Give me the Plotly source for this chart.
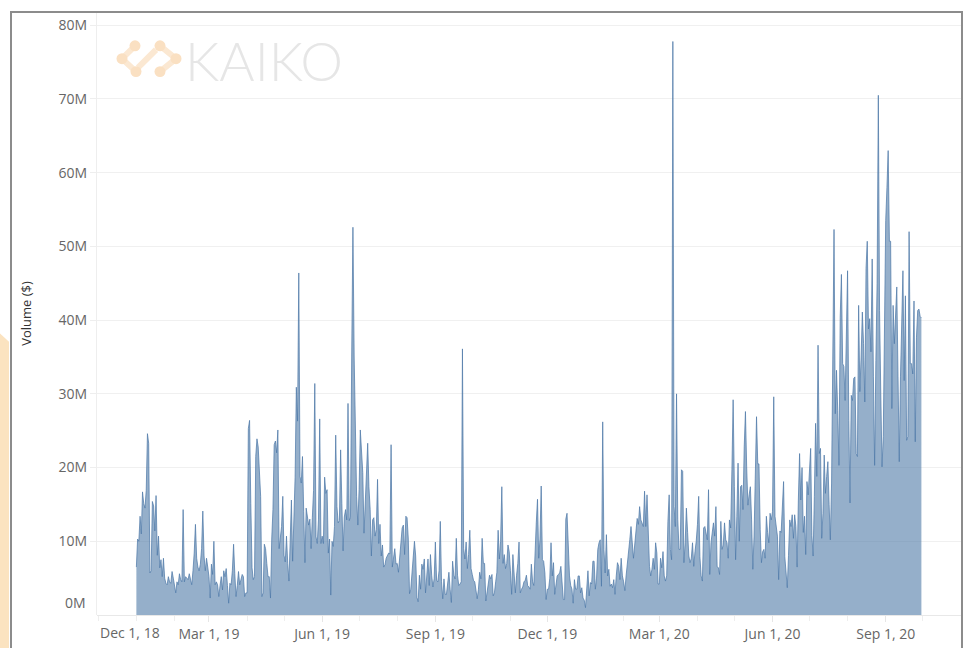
"""
Daily traded volume chart (Kaiko style), rebuilt with Plotly
"""

import plotly.graph_objects as go
import pandas as pd

# Daily volume in millions of USD, one list per month
jan_2019 = [6.5, 10.3, 10.0, 13.4, 11.0, 16.7, 15.1, 14.5, 16.9, 24.6, 23.3, 5.7, 6.0, 15.4, 14.8, 11.4,
            16.2, 8.1, 10.7, 6.4, 7.5, 5.2, 7.7, 5.0, 4.3, 4.1, 5.2, 4.5, 4.3, 5.9, 5.0]
feb_2019 = [4.2, 3.0, 4.5, 4.1, 5.6, 4.8, 4.5, 14.3, 4.5, 5.2, 5.0, 4.8, 5.6, 5.0, 4.1, 6.0, 8.4, 12.3,
            7.7, 6.5, 6.0, 6.9, 9.0, 14.1, 8.0, 6.0, 7.7, 6.5]
mar_2019 = [5.2, 2.3, 6.9, 5.5, 10.0, 4.1, 4.5, 4.1, 2.5, 4.0, 5.2, 3.4, 6.0, 5.2, 6.3, 4.0, 1.6, 4.3,
            4.1, 6.0, 9.6, 5.6, 2.5, 4.0, 5.9, 4.1, 4.8, 5.5, 5.2, 2.5, 3.0]
apr_2019 = [3.0, 25.3, 26.4, 15.1, 6.4, 4.8, 5.2, 21.5, 23.9, 22.8, 19.0, 16.1, 2.5, 3.0, 9.6, 9.0, 7.0,
            5.2, 5.2, 2.3, 10.3, 14.3, 23.1, 23.6, 22.0, 25.1, 9.0, 10.7, 12.0, 16.1]
may_2019 = [8.1, 7.2, 10.7, 7.0, 4.6, 10.0, 15.6, 7.3, 14.0, 18.7, 30.9, 26.3, 46.4, 18.8, 17.9, 21.5,
            14.0, 7.1, 14.5, 13.3, 12.2, 13.0, 9.0, 13.2, 16.9, 31.4, 10.6, 9.7, 12.9, 26.6, 9.7]
jun_2019 = [10.7, 9.7, 18.7, 16.5, 17.0, 8.4, 10.3, 2.7, 10.0, 9.3, 12.0, 24.4, 14.7, 12.5, 12.8, 22.4,
            15.1, 8.7, 13.3, 14.3, 12.9, 28.7, 12.8, 13.3, 35.0, 52.6, 35.0, 22.4, 16.1, 12.2]
jul_2019 = [17.0, 25.1, 22.4, 19.3, 11.1, 16.1, 19.2, 23.3, 17.4, 14.3, 8.0, 12.9, 13.2, 10.7, 11.6, 18.4,
            9.7, 12.3, 8.0, 9.5, 6.5, 6.8, 7.7, 8.1, 8.4, 8.3, 23.1, 6.5, 7.7, 9.0, 6.9]
aug_2019 = [7.0, 5.8, 8.2, 10.0, 11.8, 12.2, 8.2, 13.4, 13.2, 10.3, 2.9, 3.5, 5.5, 7.0, 10.0, 8.0, 2.4,
            1.8, 5.4, 3.5, 6.9, 6.2, 7.6, 3.0, 5.4, 7.6, 4.0, 8.2, 5.4, 3.8, 4.9]
sep_2019 = [9.9, 4.7, 4.5, 6.0, 12.7, 4.5, 2.2, 4.9, 2.8, 2.8, 4.5, 5.8, 3.5, 1.7, 7.3, 5.4, 4.9, 10.4,
            5.4, 4.0, 4.2, 4.5, 36.1, 9.0, 7.6, 9.9, 6.3, 8.2, 11.5, 6.3]
oct_2019 = [5.5, 4.7, 4.5, 3.5, 2.2, 3.5, 5.8, 4.9, 10.4, 7.0, 7.0, 1.9, 2.9, 3.8, 5.4, 4.9, 5.5, 2.6,
            3.0, 4.5, 5.8, 11.5, 7.6, 10.0, 17.4, 7.0, 8.2, 6.3, 7.0, 9.5, 8.6]
nov_2019 = [6.0, 2.8, 8.2, 5.4, 3.0, 5.4, 7.0, 9.9, 3.0, 3.5, 3.8, 4.5, 4.7, 5.4, 4.0, 3.8, 3.5, 6.9,
            4.5, 4.0, 9.0, 12.5, 15.7, 7.7, 10.3, 17.5, 7.5, 7.3, 5.7, 2.1]
dec_2019 = [3.5, 3.5, 5.0, 9.8, 5.3, 7.1, 2.8, 4.4, 5.3, 5.5, 5.7, 6.6, 4.4, 2.1, 2.1, 13.0, 13.8, 8.4,
            5.3, 4.0, 3.5, 1.6, 4.8, 3.5, 3.5, 5.3, 5.3, 3.0, 3.7, 2.3, 2.0]
jan_2020 = [1.0, 3.5, 6.0, 2.6, 4.4, 4.2, 7.3, 7.3, 3.5, 5.0, 8.9, 9.8, 10.2, 3.9, 26.2, 8.9, 5.7, 10.9,
            5.3, 6.2, 3.9, 4.2, 3.7, 4.8, 2.8, 5.3, 7.1, 6.6, 4.8, 7.7, 5.3]
feb_2020 = [4.5, 3.3, 5.3, 7.3, 8.9, 10.2, 12.0, 10.2, 7.7, 9.5, 11.2, 13.1, 12.3, 14.7, 12.9, 12.3, 12.0,
            16.8, 12.0, 16.3, 12.3, 6.6, 5.3, 6.2, 7.7, 6.2, 9.8, 8.4, 4.2]
mar_2020 = [4.2, 7.7, 6.4, 8.6, 5.3, 4.6, 5.3, 12.7, 16.3, 8.9, 7.5, 77.8, 14.7, 12.0, 30.0, 13.0, 8.9,
            8.9, 19.7, 19.5, 7.1, 9.8, 14.5, 11.2, 8.0, 7.1, 7.7, 9.8, 6.6, 8.6, 10.0]
apr_2020 = [12.3, 16.1, 7.9, 5.3, 4.6, 11.8, 12.0, 11.0, 10.2, 17.0, 5.5, 9.8, 11.6, 12.5, 10.7, 14.7,
            6.6, 6.4, 5.5, 12.7, 8.9, 9.5, 12.5, 10.2, 9.8, 7.7, 12.9, 11.8, 19.7, 29.2]
may_2020 = [17.4, 7.5, 13.4, 20.6, 10.0, 17.4, 17.6, 14.3, 22.8, 27.6, 20.1, 14.9, 16.3, 17.4, 12.9, 6.2,
            10.7, 18.8, 26.9, 20.5, 20.5, 11.6, 7.1, 8.6, 8.9, 7.7, 13.4, 11.2, 9.8, 13.8, 12.9]
jun_2020 = [14.0, 29.6, 13.4, 12.0, 10.7, 4.8, 11.4, 11.2, 14.3, 18.1, 7.9, 5.5, 3.7, 8.1, 12.9, 12.0,
            13.6, 10.4, 13.6, 12.0, 6.5, 15.6, 21.9, 15.6, 20.0, 11.2, 13.4, 8.2, 18.1, 16.3]
jul_2020 = [19.2, 22.6, 10.8, 8.0, 16.1, 26.0, 18.8, 36.6, 21.9, 22.6, 10.4, 13.8, 21.7, 16.5, 18.8, 20.8,
            15.0, 10.2, 17.9, 35.0, 52.3, 27.3, 33.2, 27.7, 20.3, 40.4, 46.2, 34.1, 33.7, 29.1, 38.0]
aug_2020 = [46.7, 26.4, 15.2, 29.8, 29.1, 32.1, 32.3, 21.9, 21.5, 42.0, 30.3, 35.0, 41.1, 36.8, 28.9, 47.0,
            50.7, 38.8, 40.2, 35.7, 48.3, 32.3, 20.3, 34.5, 45.0, 70.5, 41.3, 30.0, 20.1, 24.2, 36.8]
sep_2020 = [53.5, 58.0, 63.0, 50.7, 50.7, 28.0, 42.0, 36.8, 42.0, 44.5, 32.3, 20.8, 32.3, 40.2, 46.7, 31.8,
            43.3, 23.7, 24.2, 52.0, 34.1, 34.1, 32.7, 42.6, 23.5, 37.7, 41.3, 41.5, 40.5, 40.3]

months = [jan_2019, feb_2019, mar_2019, apr_2019, may_2019, jun_2019, jul_2019, aug_2019, sep_2019,
          oct_2019, nov_2019, dec_2019, jan_2020, feb_2020, mar_2020, apr_2020, may_2020, jun_2020,
          jul_2020, aug_2020, sep_2020]

# Axis ticks
x_tick_dates = ["2019-03-01", "2019-06-01", "2019-09-01", "2019-12-01",
                "2020-03-01", "2020-06-01", "2020-09-01"]
x_tick_labels = ["Mar 1, 19", "Jun 1, 19", "Sep 1, 19", "Dec 1, 19",
                 "Mar 1, 20", "Jun 1, 20", "Sep 1, 20"]
y_tick_values = [10e6, 20e6, 30e6, 40e6, 50e6, 60e6, 70e6, 80e6]
y_tick_labels = ["10M", "20M", "30M", "40M", "50M", "60M", "70M", "80M"]

volume = [v * 1e6 for month in months for v in month]
dates = pd.date_range("2019-01-01", periods=len(volume), freq="D")

# Layout geometry (pixels) for decorations
W, H = 967, 648
PL, PR, PT, PB = 97, 962, 12, 619


def px(x):
    return (x - PL) / (PR - PL)


def py(y):
    return (PB - y) / (PB - PT)


fig = go.Figure()

fig.add_trace(
    go.Scatter(
        x=dates,
        y=volume,
        mode="lines",
        fill="tozeroy",
        line=dict(color="rgba(78,121,167,0.72)", width=1),
        fillcolor="rgba(78,121,167,0.6)",
        name="Volume ($)",
        hovertemplate="%{x|%b %d, %Y}<br>%{y:$,.0f}<extra></extra>",
    )
)

shapes = []

# Outer grey frame
shapes.append(dict(
    type="rect", xref="paper", yref="paper",
    x0=px(11), x1=px(962), y0=py(670), y1=py(12),
    line=dict(color="#8c8c8c", width=2), fillcolor="rgba(0,0,0,0)", layer="above",
))

# Peach strip on the far left
shapes.append(dict(
    type="path", xref="paper", yref="paper",
    path=f"M {px(-5)},{py(331)} L {px(9)},{py(344)} L {px(9)},{py(670)} L {px(-5)},{py(670)} Z",
    fillcolor="#fbe3c0", line=dict(width=0), layer="below",
))

# Watermark icon: chevrons, slash and nodes
logo_color = "#fbe8d2"
for pts in [[(135, 46), (122, 59), (136, 72)],
            [(160, 46), (176, 59), (160, 72)],
            [(138, 68), (156, 50)]]:
    path = "M " + " L ".join(f"{px(x)},{py(y)}" for x, y in pts)
    shapes.append(dict(
        type="path", xref="paper", yref="paper", path=path,
        line=dict(color=logo_color, width=6), layer="below",
    ))
for cx, cy in [(135, 46), (160, 46), (136, 72), (160, 72), (122, 59), (176, 59)]:
    r = 5.5
    shapes.append(dict(
        type="circle", xref="paper", yref="paper",
        x0=px(cx - r), x1=px(cx + r), y0=py(cy + r), y1=py(cy - r),
        fillcolor="#fae0c2", line=dict(width=0), layer="below",
    ))

annotations = [
    dict(text="KAIKO", xref="paper", yref="paper", x=px(183), y=py(61),
         xanchor="left", yanchor="middle", showarrow=False,
         font=dict(family="Lato, Open Sans, sans-serif", size=54, weight=300, color="#e6e6e6")),
    # first x label sits right of its tick, 0M label sits above its gridline
    dict(text="Dec 1, 18", xref="x", yref="paper", x="2018-12-01", y=py(637),
         xanchor="left", yanchor="middle", showarrow=False,
         font=dict(family="Open Sans, sans-serif", size=14, color="#666666")),
    dict(text="0M", xref="paper", yref="y", x=0, y=0, xshift=-9, yshift=1,
         xanchor="right", yanchor="bottom", showarrow=False,
         font=dict(family="Open Sans, sans-serif", size=14, color="#666666")),
]

fig.update_layout(
    width=W,
    height=H,
    margin=dict(l=PL, r=W - PR, t=PT, b=H - PB),
    paper_bgcolor="white",
    plot_bgcolor="white",
    showlegend=False,
    shapes=shapes,
    annotations=annotations,
    font=dict(family="Open Sans, sans-serif", size=14, color="#666666"),
    xaxis=dict(
        type="date",
        range=["2018-11-30", "2020-11-02"],
        tickmode="array",
        tickvals=x_tick_dates,
        ticktext=x_tick_labels,
        showgrid=False,
        ticks="outside",
        ticklen=6,
        tickcolor="#e6e6e6",
        showline=False,
        zeroline=False,
        minor=dict(tickmode="array", ticks="outside", ticklen=5, tickcolor="#eeeeee",
                   tickvals=pd.date_range("2018-12-01", "2020-10-01", freq="MS")),
        tickfont=dict(size=14, color="#666666"),
    ),
    yaxis=dict(
        range=[0, 81.8e6],
        tickmode="array",
        tickvals=y_tick_values,
        ticktext=y_tick_labels,
        showgrid=True,
        gridcolor="#f0f0f0",
        gridwidth=1,
        zeroline=True,
        zerolinecolor="#e8e8e8",
        zerolinewidth=1,
        showline=True,
        linecolor="#eeeeee",
        linewidth=1,
        ticks="outside",
        ticklen=6,
        tickcolor="#eeeeee",
        tickfont=dict(size=14, color="#666666"),
        title=dict(text="Volume ($)", standoff=24,
                   font=dict(size=13, color="#333333")),
    ),
)

# the page's default body margin would shift the whole figure by 8px
fig.write_html(
    "out.html",
    config={"displayModeBar": False},
    post_script="document.body.style.margin = '0px';",
)
